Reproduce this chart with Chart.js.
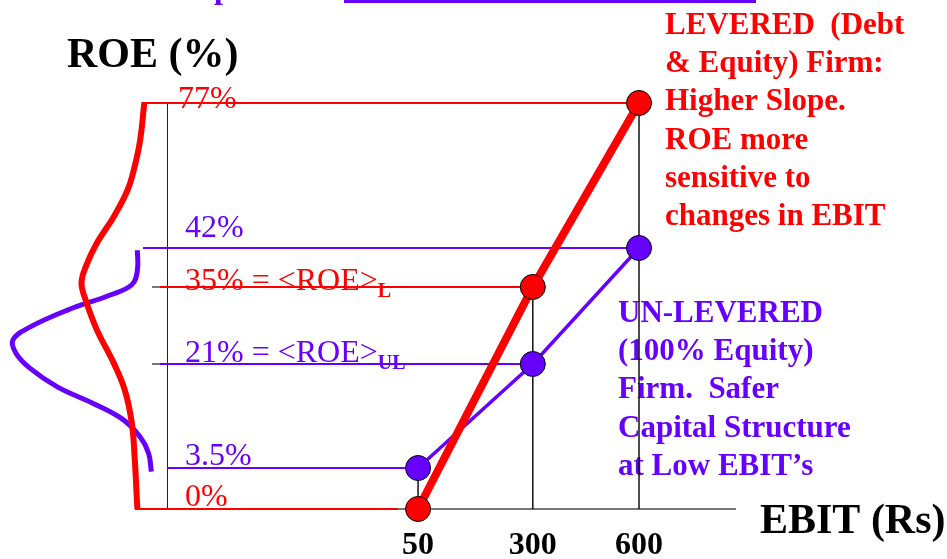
<!DOCTYPE html>
<html>
<head>
<meta charset="utf-8">
<script src="https://cdn.jsdelivr.net/npm/chart.js@4"></script>
<style>
  html, body { margin: 0; background: #fff; }
  canvas { display: block; }
</style>
</head>
<body>
<canvas id="roeChart" width="947" height="559"></canvas>
<script>
// EBIT levels (Rs) and ROE (%) for both firms
const ebitLevels = [50, 300, 600];
const roeLevered = [0, 35, 77];
const roeUnlevered = [3.5, 21, 42];

// sideways distribution sketches on the left: ROE (%) vs relative likelihood
const leveredDistRoe = [77.2, 68.1, 61.6, 56.0, 49.5, 43.2, 38.6, 35.7, 32.6, 27.2, 21.2, 16.6, 11.1, 5.4, 0];
const leveredDistDensity = [0.04, 0.07, 0.11, 0.16, 0.26, 0.38, 0.46, 0.49, 0.46, 0.38, 0.26, 0.18, 0.13, 0.11, 0.09];
const unleveredDistRoe = [41.6, 38.0, 35.4, 33.5, 30.8, 27.7, 25.4, 23.0, 20.3, 17.1, 14.4, 11.6, 8.7, 6.0, 3.2];
const unleveredDistDensity = [0.09, 0.09, 0.13, 0.29, 0.59, 0.86, 0.98, 0.96, 0.86, 0.66, 0.41, 0.19, 0.07, 0.01, -0.01];

const RED = "#ff0000";
const PURPLE = "#6600ff";
const SERIF = '"Liberation Serif", "Times New Roman", serif';

// the sketch is not drawn to scale, so each axis maps values piecewise
// [value, fraction of axis length]
const axisAnchors = {
    x: [[0, 0], [50, 0.442], [300, 0.644], [600, 0.831], [800, 1]],
    y: [[0, 0], [3.5, 0.1007], [21, 0.3563], [35, 0.5455], [42, 0.6413], [77, 0.9975], [80, 1.027]],
    spread: [[0, -0.03], [1, -0.276]],
};
const axisTicks = { x: ebitLevels, y: [], spread: [] };

class PiecewiseScale extends Chart.LinearScale {
    static id = "piecewise";
    static defaults = Chart.LinearScale.defaults;

    fraction(v) {
        const a = axisAnchors[this.id];
        let i = 1;
        while (i < a.length - 1 && v > a[i][0]) i++;
        const [v0, f0] = a[i - 1];
        const [v1, f1] = a[i];
        return f0 + ((v - v0) * (f1 - f0)) / (v1 - v0);
    }

    getPixelForValue(v) {
        const f = this.fraction(v);
        return this.isHorizontal() ? this.left + f * this.width : this.bottom - f * this.height;
    }

    getValueForPixel(p) {
        return p;
    }

    buildTicks() {
        return axisTicks[this.id].map((value) => ({ value }));
    }
}
Chart.register(PiecewiseScale);

const toPoints = (xs, ys) => xs.map((x, i) => ({ x, y: ys[i] }));

function drawText(ctx, str, x, y, font, color) {
    ctx.font = font;
    ctx.fillStyle = color;
    ctx.textAlign = "left";
    ctx.textBaseline = "alphabetic";
    ctx.fillText(str, x, y);
    return ctx.measureText(str).width;
}

const levelLabels = [
    { v: 77, color: RED, x: 178, dy: 5 },
    { v: 42, color: PURPLE, x: 185, dy: -11 },
    { v: 35, color: RED, x: 185, dy: 3, sub: "L" },
    { v: 21, color: PURPLE, x: 185, dy: -2, sub: "UL" },
    { v: 3.5, color: PURPLE, x: 185, dy: -3 },
    { v: 0, color: RED, x: 185, dy: -3 },
];

const guideStyle = [
    { values: roeLevered, color: RED, start: [135, 152, 143], endGap: [20, 0, 0] },
    { values: roeUnlevered, color: PURPLE, start: [167, 152, 143], endGap: [0, 0, 0] },
];

const leveredNote = ["LEVERED  (Debt", "& Equity) Firm:", "Higher Slope.", "ROE more", "sensitive to", "changes in EBIT"];
const unleveredNote = ["UN-LEVERED", "(100% Equity)", "Firm.  Safer", "Capital Structure", "at Low EBIT\u2019s"];

const annotate = {
    id: "annotate",
    beforeDatasetsDraw(chart) {
        const { ctx } = chart;
        const x = chart.scales.x;
        const y = chart.scales.y;
        ctx.save();

        // cut-off heading at the very top
        ctx.fillStyle = PURPLE;
        ctx.fillRect(344, 0, 412, 3);
        drawText(ctx, "p", 214, -2, "bold 32px " + SERIF, PURPLE);

        // axis titles
        drawText(ctx, "ROE (%)", 67, 67, "bold 42px " + SERIF, "#000");
        drawText(ctx, "EBIT (Rs)", 760, 533, "bold 42px " + SERIF, "#000");

        // side notes
        leveredNote.forEach((line, i) => drawText(ctx, line, 665, 34 + i * 38.2, "bold 31px " + SERIF, RED));
        unleveredNote.forEach((line, i) => drawText(ctx, line, 618, 322 + i * 38.2, "bold 31px " + SERIF, PURPLE));

        // level labels
        levelLabels.forEach((l) => {
            const py = y.getPixelForValue(l.v) + l.dy;
            const str = l.sub ? l.v + "% = <ROE>" : l.v + "%";
            const w = drawText(ctx, str, l.x, py, "32px " + SERIF, l.color);
            if (l.sub) drawText(ctx, l.sub, l.x + w, py + 7, "bold 20px " + SERIF, l.color);
        });

        // horizontal guides from the axis to each point
        ctx.lineWidth = 2;
        guideStyle.forEach((g) => {
            g.values.forEach((v, i) => {
                const py = y.getPixelForValue(v);
                const px = x.getPixelForValue(ebitLevels[i]) - g.endGap[i];
                let sx = g.start[i];
                if (sx === 152) {
                    ctx.strokeStyle = "#777";
                    ctx.beginPath();
                    ctx.moveTo(sx, py);
                    ctx.lineTo(sx + 8, py);
                    ctx.stroke();
                    sx += 8;
                }
                ctx.strokeStyle = g.color;
                ctx.beginPath();
                ctx.moveTo(sx, py);
                ctx.lineTo(px, py);
                ctx.stroke();
            });
        });

        // vertical drops to the EBIT axis
        ctx.strokeStyle = "#111";
        ctx.lineWidth = 1.5;
        ebitLevels.forEach((e, i) => {
            const px = x.getPixelForValue(e);
            ctx.beginPath();
            ctx.moveTo(px, y.getPixelForValue(Math.max(roeLevered[i], roeUnlevered[i])));
            ctx.lineTo(px, y.getPixelForValue(0));
            ctx.stroke();
        });

        ctx.restore();
    },
};

new Chart(document.getElementById("roeChart"), {
    type: "scatter",
    data: {
        datasets: [
            {
                label: "Levered",
                data: toPoints(ebitLevels, roeLevered),
                showLine: true,
                borderColor: RED,
                borderWidth: 8,
                pointRadius: 12.5,
                pointBackgroundColor: RED,
                pointBorderColor: "#000",
                pointBorderWidth: 1,
                clip: false,
            },
            {
                label: "Un-levered",
                data: toPoints(ebitLevels, roeUnlevered),
                showLine: true,
                borderColor: PURPLE,
                borderWidth: 3.5,
                pointRadius: 12.5,
                pointBackgroundColor: PURPLE,
                pointBorderColor: "#000",
                pointBorderWidth: 1,
                clip: false,
            },
            {
                label: "Levered ROE spread",
                xAxisID: "spread",
                data: toPoints(leveredDistDensity, leveredDistRoe),
                showLine: true,
                borderColor: RED,
                borderWidth: 6,
                pointRadius: 0,
                tension: 0.4,
                clip: false,
            },
            {
                label: "Un-levered ROE spread",
                xAxisID: "spread",
                data: toPoints(unleveredDistDensity, unleveredDistRoe),
                showLine: true,
                borderColor: PURPLE,
                borderWidth: 5,
                pointRadius: 0,
                tension: 0.4,
                clip: false,
            },
        ],
    },
    options: {
        responsive: false,
        animation: false,
        layout: {
            padding: { left: 167, right: 212, top: 102, bottom: 0 },
        },
        plugins: {
            legend: { display: false },
            tooltip: { enabled: false },
        },
        events: [],
        scales: {
            x: {
                type: "piecewise",
                position: "bottom",
                grid: { display: false, drawTicks: false },
                border: { display: true, color: "#777", width: 2 },
                ticks: {
                    autoSkip: false,
                    padding: 18,
                    color: "#000",
                    font: { family: SERIF, size: 32, weight: "bold" },
                },
                afterFit(scale) {
                    scale.height = 50;
                },
            },
            y: {
                type: "piecewise",
                position: "left",
                grid: { display: false, drawTicks: false },
                border: { display: true, color: "#222", width: 1 },
                ticks: { display: false },
                afterFit(scale) {
                    scale.width = 0;
                },
            },
            spread: {
                type: "piecewise",
                position: "bottom",
                display: false,
            },
        },
    },
    plugins: [annotate],
});
</script>
</body>
</html>
